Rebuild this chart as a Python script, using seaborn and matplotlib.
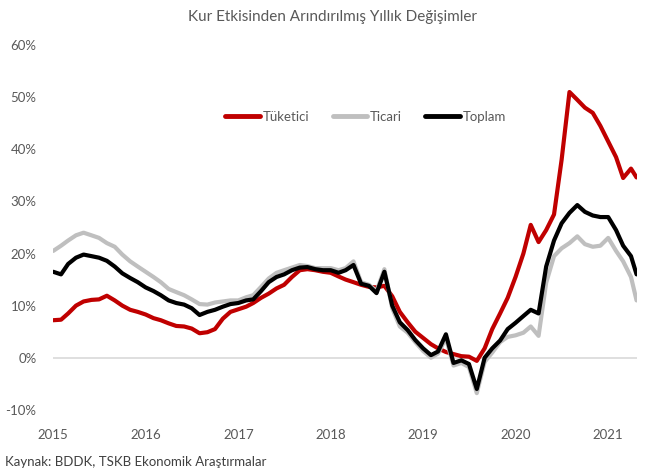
import pandas as pd
import seaborn as sns
import matplotlib.pyplot as plt
import matplotlib.dates as mdates

# monthly readings (start of month), plus the last weekly point in April 2021
dates = pd.date_range('2015-01-01', '2021-04-01', freq='MS').append(pd.DatetimeIndex(['2021-04-23']))

tuketici = [
    7.2, 7.3, 8.5, 10.0, 10.8, 11.1, 11.2, 11.9, 11.0, 10.0, 9.2, 8.8,
    8.3, 7.6, 7.2, 6.6, 6.1, 6.0, 5.6, 4.7, 4.9, 5.5, 7.5, 8.8,
    9.3, 9.8, 10.5, 11.5, 12.3, 13.3, 14.0, 15.5, 16.8, 17.0, 16.8, 16.5,
    16.3, 15.6, 15.0, 14.5, 14.0, 13.6, 13.5, 13.8, 11.8, 8.8, 6.8, 5.0,
    3.8, 2.6, 1.8, 1.1, 0.7, 0.3, 0.2, -0.6, 1.8, 5.5, 8.5, 11.5,
    15.5, 20.0, 25.5, 22.2, 24.5, 27.5, 38.0, 51.0, 49.5, 48.0, 47.0, 44.5,
    41.5, 38.5, 34.5, 36.3, 34.6,
]
ticari = [
    20.5, 21.5, 22.5, 23.5, 24.0, 23.5, 23.0, 22.0, 21.3, 19.8, 18.5, 17.5,
    16.5, 15.5, 14.5, 13.2, 12.6, 12.0, 11.2, 10.3, 10.2, 10.6, 10.8, 11.0,
    11.0, 11.6, 12.0, 13.6, 15.2, 16.3, 16.8, 17.3, 17.8, 17.6, 17.2, 17.2,
    17.2, 16.8, 17.2, 18.5, 14.5, 14.0, 12.8, 17.0, 9.5, 6.0, 4.8, 3.0,
    1.3, 0.0, 0.8, 3.8, -1.5, -1.0, -1.8, -6.8, -0.8, 1.0, 3.0, 4.0,
    4.3, 4.8, 6.0, 4.2, 14.4, 19.5, 21.0, 22.0, 23.3, 21.8, 21.3, 21.5,
    23.0, 20.5, 18.5, 15.5, 11.0,
]
toplam = [
    16.5, 16.0, 18.0, 19.2, 19.8, 19.5, 19.2, 18.6, 17.5, 16.2, 15.3, 14.5,
    13.5, 12.8, 12.0, 11.0, 10.5, 10.2, 9.5, 8.2, 8.8, 9.2, 9.8, 10.3,
    10.5, 11.0, 11.2, 12.8, 14.5, 15.5, 16.0, 16.8, 17.3, 17.4, 17.0, 16.8,
    16.8, 16.3, 16.8, 17.8, 14.2, 13.8, 12.4, 16.5, 10.0, 6.8, 5.3, 3.4,
    1.8, 0.5, 1.2, 4.5, -1.0, -0.5, -1.2, -6.0, 0.0, 1.8, 3.3, 5.5,
    6.7, 8.0, 9.2, 8.5, 17.5, 22.5, 25.8, 27.8, 29.3, 28.0, 27.3, 27.0,
    27.0, 24.5, 21.5, 19.5, 16.0,
]

series_names = ['Tüketici', 'Ticari', 'Toplam']
colors = ['#C00000', '#BFBFBF', '#000000']
year_labels = ['2015', '2016', '2017', '2018', '2019', '2020', '2021']
y_ticks = [-10, 0, 10, 20, 30, 40, 50, 60]

df = pd.concat([
    pd.DataFrame({'Tarih': dates, 'Deger': vals, 'Seri': name})
    for name, vals in zip(series_names, [tuketici, ticari, toplam])
])

sns.set_style('white')
plt.rcParams['font.family'] = ['Lato', 'DejaVu Sans']

fig = plt.figure(figsize=(6.65, 4.7), dpi=100)
ax = fig.add_axes([0.080, 0.128, 0.878, 0.776])

ax.axhline(0, color='#D9D9D9', lw=1.2, zorder=0)
sns.lineplot(data=df, x='Tarih', y='Deger', hue='Seri', hue_order=series_names,
             palette=colors, linewidth=3, ax=ax, legend=False)

ax.set_xlim(pd.Timestamp('2015-01-01'), pd.Timestamp('2021-04-25'))
ax.set_ylim(-10, 60)
ax.set_yticks(y_ticks)
ax.set_yticklabels([f'{v}%' for v in y_ticks])
ax.set_xticks([pd.Timestamp(f'{y}-01-01') for y in year_labels])
ax.set_xticklabels(year_labels)
ax.tick_params(axis='both', length=0, labelsize=9.5, labelcolor='#595959')
ax.tick_params(axis='x', pad=14)
ax.tick_params(axis='y', pad=12)
ax.set_xlabel('')
ax.set_ylabel('')
sns.despine(ax=ax, left=True, bottom=True)

handles = [plt.Line2D([], [], color=c, lw=3.5, solid_capstyle='round') for c in colors]
leg = ax.legend(handles, series_names, loc='center', bbox_to_anchor=(0.535, 0.803),
                ncol=3, frameon=False, handlelength=2.6, handletextpad=0.2,
                columnspacing=1.8, fontsize=9.5)
for t in leg.get_texts():
    t.set_color('#595959')

fig.text(0.5, 0.963, 'Kur Etkisinden Arındırılmış Yıllık Değişimler', ha='center',
         va='center', fontsize=11, color='#595959')
fig.text(0.008, 0.018, 'Kaynak: BDDK, TSKB Ekonomik Araştırmalar', ha='left',
         va='center', fontsize=9.5, color='#404040')

fig.savefig('out.png', dpi=100)
